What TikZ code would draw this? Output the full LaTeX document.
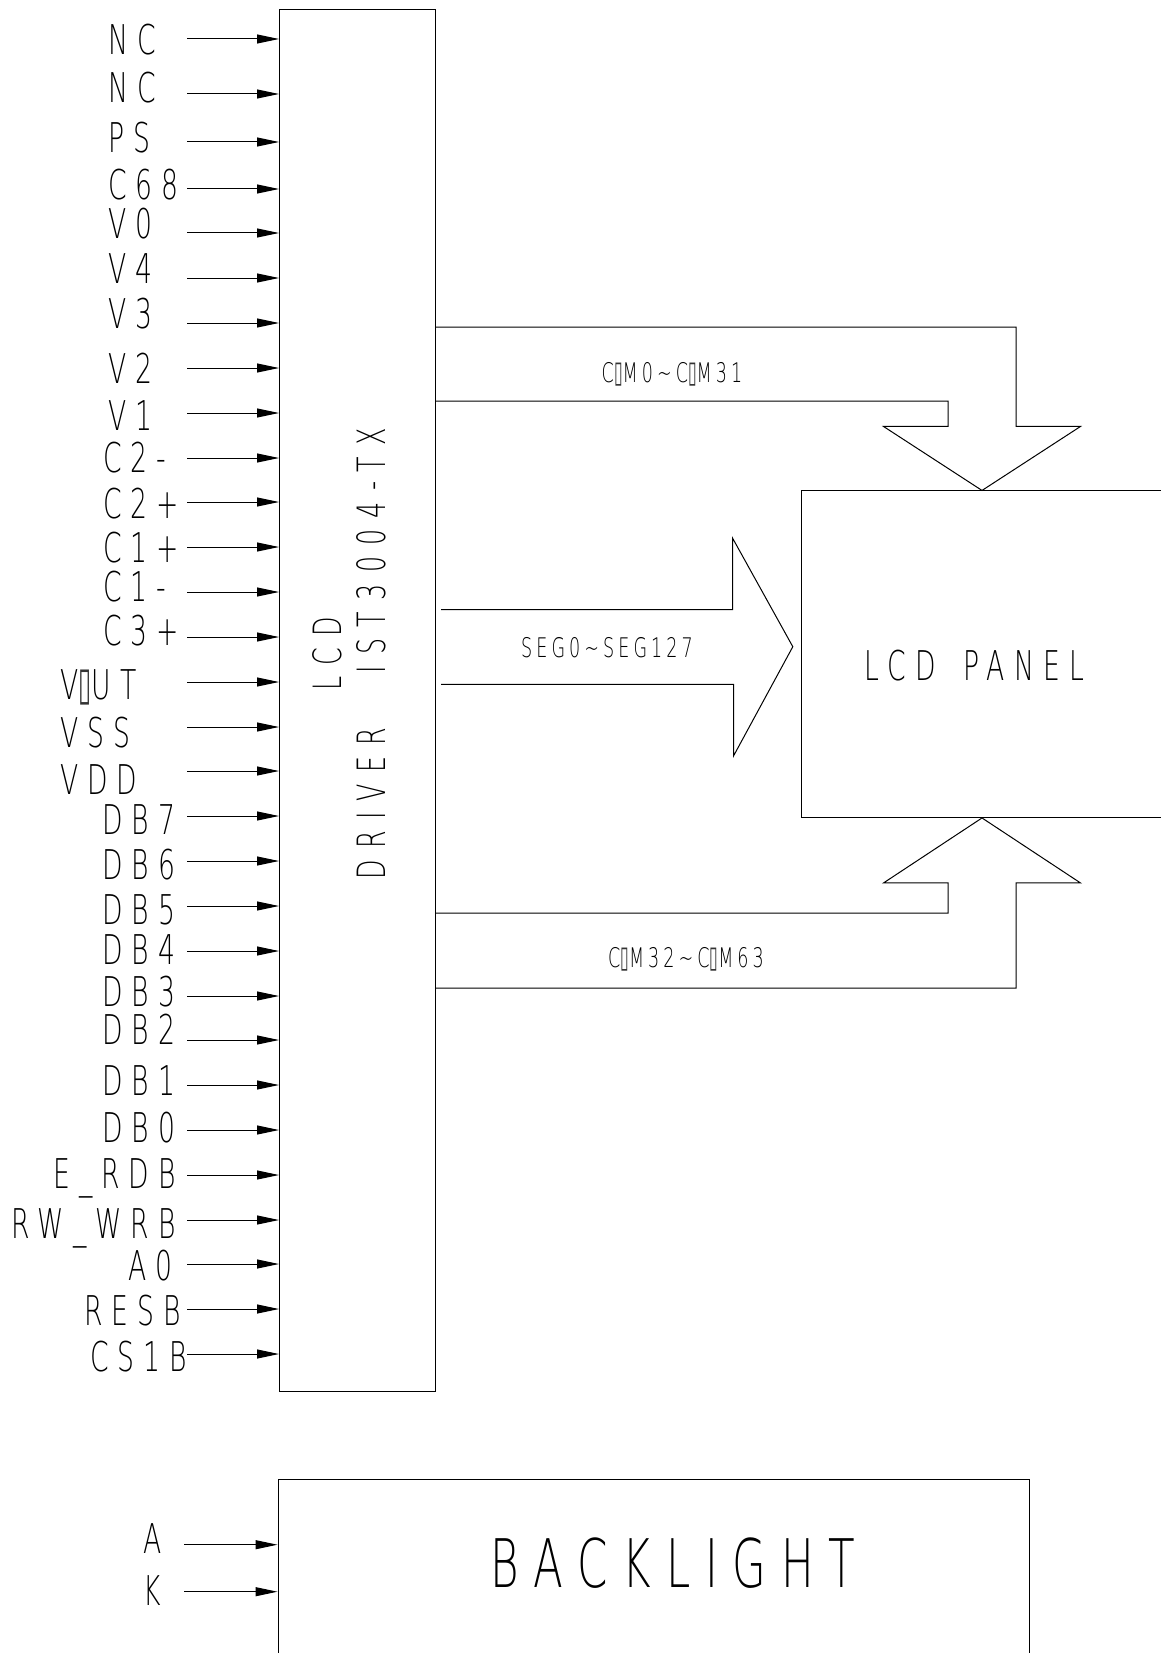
\documentclass[tikz,border=0pt]{standalone}
\usepackage{fontspec}
\setmainfont{DejaVu Sans ExtraLight}[FakeStretch=0.65,LetterSpace=22]
\newfontfamily\drvfont{DejaVu Sans ExtraLight}[FakeStretch=0.65,LetterSpace=29,WordSpace=2.8]
\newfontfamily\boxfont{DejaVu Sans}
\usetikzlibrary{arrows.meta,positioning,calc}
\newcommand{\tofu}{\textcolor{black!80}{\resizebox{0.32em}{0.72em}{\boxfont\char"25AF}}}
\tikzset{
  >={Triangle[length=22pt,width=9pt]},
  every node/.style={inner sep=0pt,text=black},
  chip/.style={draw,line width=1pt},
  pinlabel/.style={anchor=base west,font=\fontsize{41}{44}\selectfont},
  pinarrow/.style={->,line width=1pt},
  bus/.style={line width=1pt},
  buslabel/.style={anchor=base,font=\fontsize{27}{30}\selectfont\addfontfeatures{LetterSpace=15}},
  bigtext/.style={font=\fontsize{41}{44}\selectfont}
}
\begin{document}
\begin{tikzpicture}[x=1pt,y=-1pt]
  \useasboundingbox (0,0) rectangle (1160,1653);

  % driver chip
  \node[chip,minimum width=156pt,minimum height=1382pt] (drv) at (357.5,700.6) {};
  \node[rotate=90,align=center,font=\drvfont\fontsize{39}{44}\selectfont] (drvname) at (349,654) {LCD\\DRIVER IST3004-TX};

  % input pins
  \foreach \lbl/\py/\lx/\ly [count=\i] in {NC/39/108/55, NC/94/108/103, PS/142/108/153, C68/189/108/200,
      V0/233/108/239, V4/278/108/283, V3/323/108/328, V2/368/108/383, V1/413/108/430,
      C2-/458/103/472, C2+/502/103/518, C1+/547/103/562, C1-/592/103/601, C3+/637/103/645,
      V\tofu UT/682/60/699, VSS/727/60/747, VDD/771/60/794,
      DB7/816/102/834, DB6/861/102/879, DB5/906/102/924, DB4/951/102/964,
      DB3/996/102/1006, DB2/1040/102/1044, DB1/1085/102/1095, DB0/1130/102/1142,
      E\_RDB/1175/53/1188, RW\_WRB/1220/11/1238, A0/1264/128/1280, RESB/1309/84/1325, CS1B/1354/90/1371}{
    \coordinate (pin\i) at (187,\py);
    \node[pinlabel] (lab\i) at (\lx,\ly) {\lbl};
    \draw[pinarrow] (pin\i) -- (pin\i -| drv.west);
  }

  % panel
  \node[chip,minimum width=361pt,minimum height=326.5pt] (panel) at (982,654.2) {};
  \node[bigtext,anchor=base] (panelname) at (974,680) {LCD\hspace{10pt} PANEL};

  % COM0~COM31 bus
  \draw[bus] (drv.east |- 0,327) -| ([xshift=34pt,yshift=64pt]panel.north) -- ++(64.5,0)
    -- (panel.north) -- ++(-98.5,-64) -- ++(64.5,0) |- (drv.east |- 0,401);
  \node[buslabel] (comtop) at (672,382) {C\tofu M0\textasciitilde C\tofu M31};

  % SEG0~SEG127 bus
  \coordinate (segtip) at (792.8,646.7);
  \draw[bus] ([xshift=5pt]drv.east |- 0,609.5) -- (732.5,609.5) -- (732.5,538) -- (segtip)
    -- (733.5,756) -- (733.5,684.3) -- ([xshift=5pt]drv.east |- 0,684.3);
  \node[buslabel] (seglabel) at (607,657) {SEG0\textasciitilde SEG127};

  % COM32~COM63 bus
  \draw[bus] (drv.east |- 0,988) -| ([xshift=34pt,yshift=-65pt]panel.south) -- ++(64.5,0)
    -- (panel.south) -- ++(-98.5,65) -- ++(64.5,0) |- (drv.east |- 0,913);
  \node[buslabel] (combot) at (686,967) {C\tofu M32\textasciitilde C\tofu M63};

  % backlight
  \node[chip,minimum width=751pt,minimum height=240pt] (blight) at (653.5,1599) {};
  \node[bigtext,anchor=base,font=\fontsize{67}{70}\selectfont] (blightname) at (673,1587) {BACKLIGHT};
  \coordinate (pinA) at (184,1544.7);
  \coordinate (pinK) at (184,1591.7);
  \node[pinlabel] (labA) at (143,1553) {A};
  \node[pinlabel] (labK) at (143,1605) {K};
  \draw[pinarrow] (pinA) -- (pinA -| blight.west);
  \draw[pinarrow] (pinK) -- (pinK -| blight.west);
\end{tikzpicture}
\end{document}
